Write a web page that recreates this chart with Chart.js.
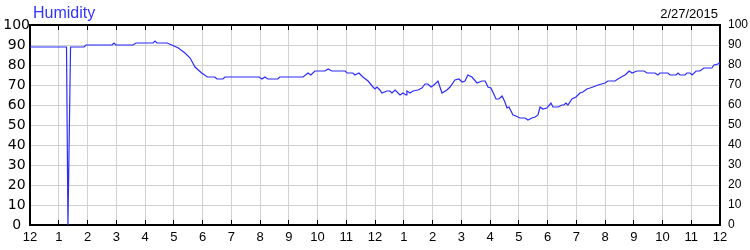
<!DOCTYPE html>
<html>
<head>
<meta charset="utf-8">
<script src="https://cdn.jsdelivr.net/npm/chart.js@4.4.1/dist/chart.umd.min.js"></script>
<style>
  html, body { margin: 0; padding: 0; background: #fff; }
  #wrap { width: 750px; height: 250px; }
</style>
</head>
<body>
<div id="wrap"><canvas id="humChart"></canvas></div>
<script>
const chartTitle = "Humidity";
const chartDate = "2/27/2015";

// hour of day (0 = midnight) and humidity %
const hours = [
  0, 1.27, 1.32, 1.41, 1.88, 1.95, 2.85, 2.92, 2.99, 3.58, 3.69, 4.28, 4.35, 4.42, 4.77,
  4.93, 5.16, 5.39, 5.57, 5.74, 5.97, 6.17, 6.43, 6.50, 6.71, 6.78, 7.97, 8.07, 8.17, 8.27,
  8.62, 8.69, 9.50, 9.67, 9.77, 9.91, 10.26, 10.37, 10.50, 10.96, 11.03, 11.23, 11.30, 11.44,
  11.58, 11.76, 11.93, 12.00, 12.07, 12.17, 12.24, 12.42, 12.52, 12.59, 12.70, 12.87, 12.97,
  13.08, 13.11, 13.22, 13.32, 13.50, 13.63, 13.74, 13.84, 13.95, 14.05, 14.19, 14.33, 14.50,
  14.61, 14.78, 14.92, 15.03, 15.13, 15.23, 15.37, 15.55, 15.72, 15.83, 15.93, 16.03, 16.10,
  16.21, 16.31, 16.42, 16.52, 16.59, 16.66, 16.80, 16.90, 17.04, 17.22, 17.32, 17.46, 17.57,
  17.67, 17.74, 17.84, 17.98, 18.12, 18.19, 18.37, 18.50, 18.57, 18.64, 18.71, 18.85, 18.99,
  19.13, 19.23, 19.37, 19.48, 19.58, 19.76, 20.00, 20.10, 20.35, 20.45, 20.63, 20.70, 20.84,
  20.94, 21.11, 21.36, 21.46, 21.74, 21.84, 21.91, 22.19, 22.26, 22.47, 22.54, 22.61, 22.78,
  22.85, 22.96, 23.03, 23.17, 23.30, 23.44, 23.72, 23.79, 23.93, 23.97, 24.00
];
const humidity = [
  89, 89, 0, 89, 89, 90, 90, 91, 90, 90, 91, 91, 92, 91, 91,
  90, 88.5, 86, 83.5, 79, 76, 74, 74, 73, 73, 74, 74, 73, 74, 73,
  73, 74, 74, 76, 75, 77, 77, 78, 77, 77, 76, 76, 75, 76,
  74, 72, 69, 68, 69, 67.5, 66, 67, 67, 66, 67.5, 65, 66,
  65, 67, 66, 67, 67.5, 68.5, 70.5, 70.5, 69, 70, 72, 66, 67.5,
  69, 72.5, 73, 71.5, 72, 75, 74, 71, 72, 72, 69, 68.5, 66.5,
  63, 63, 64.5, 61.5, 58.5, 59, 55, 54.5, 53.5, 53.5, 52.5, 53.5, 54,
  55, 59, 58, 58.5, 61, 59, 59, 60, 60, 61, 60, 63, 64,
  66, 66.5, 68, 68.5, 69, 70, 71, 72, 72, 73, 74.5, 75, 77,
  76, 77, 77, 76, 76, 75, 76, 76, 75, 75, 76, 75, 75,
  76, 76, 75, 77, 77, 78.5, 78.5, 80, 80.5, 81, 80
];

const hourLabels = ['12','1','2','3','4','5','6','7','8','9','10','11',
                    '12','1','2','3','4','5','6','7','8','9','10','11','12'];
const yTicks = [0, 10, 20, 30, 40, 50, 60, 70, 80, 90, 100];

const points = hours.map((h, i) => ({ x: h, y: humidity[i] }));

const gridGrey = '#d0d0d0';
const lineBlue = '#2b2bff';

const headerPlugin = {
  id: 'header',
  afterDraw(chart) {
    const c = chart.ctx;
    c.save();
    c.textBaseline = 'alphabetic';
    c.font = '16px "Liberation Sans", Arial, sans-serif';
    c.fillStyle = '#3333ff';
    c.textAlign = 'left';
    c.fillText(chartTitle, 33, 18);
    c.font = '13px "Liberation Sans", Arial, sans-serif';
    c.fillStyle = '#000';
    c.textAlign = 'right';
    c.fillText(chartDate, 718, 18);
    c.restore();
  }
};

new Chart(document.getElementById('humChart'), {
  type: 'line',
  data: {
    datasets: [{
      data: points,
      borderColor: lineBlue,
      borderWidth: 1.2,
      pointRadius: 0,
      tension: 0,
      fill: false
    }]
  },
  options: {
    responsive: true,
    maintainAspectRatio: false,
    animation: false,
    layout: { padding: 0 },
    plugins: { legend: { display: false }, tooltip: { enabled: false } },
    scales: {
      x: {
        type: 'linear', position: 'bottom', min: 0, max: 24,
        afterBuildTicks: s => { s.ticks = hourLabels.map((_, i) => ({ value: i })); },
        afterFit: s => { s.height = 25; },
        ticks: {
          autoSkip: false, maxRotation: 0, padding: 10, color: '#000',
          font: { family: '"Liberation Sans", Arial, sans-serif', size: 13 },
          callback: v => hourLabels[v]
        },
        grid: { color: gridGrey, tickLength: -5, tickColor: '#000', tickWidth: 1 },
        border: { color: '#000', width: 2 }
      },
      xTop: {
        type: 'linear', position: 'top', min: 0, max: 24,
        afterBuildTicks: s => { s.ticks = hourLabels.map((_, i) => ({ value: i })); },
        afterFit: s => { s.height = 25; },
        ticks: { display: false },
        grid: { drawOnChartArea: false, tickLength: -5, tickColor: '#000', tickWidth: 1 },
        border: { color: '#000', width: 2 }
      },
      y: {
        position: 'left', min: 0, max: 100,
        afterBuildTicks: s => { s.ticks = yTicks.map(v => ({ value: v })); },
        afterFit: s => { s.width = 30; },
        ticks: {
          padding: 0, crossAlign: 'center', color: '#000',
          font: { family: '"DejaVu Sans", sans-serif', size: 14 }
        },
        grid: { color: gridGrey, drawTicks: false },
        border: { color: '#000', width: 2 }
      },
      yRight: {
        position: 'right', min: 0, max: 100,
        afterBuildTicks: s => { s.ticks = yTicks.map(v => ({ value: v })); },
        afterFit: s => { s.width = 30; },
        ticks: {
          padding: 8, color: '#000',
          font: { family: '"Liberation Sans", Arial, sans-serif', size: 12 }
        },
        grid: { drawOnChartArea: false, drawTicks: false },
        border: { color: '#000', width: 2 }
      }
    }
  },
  plugins: [headerPlugin]
});
</script>
</body>
</html>
